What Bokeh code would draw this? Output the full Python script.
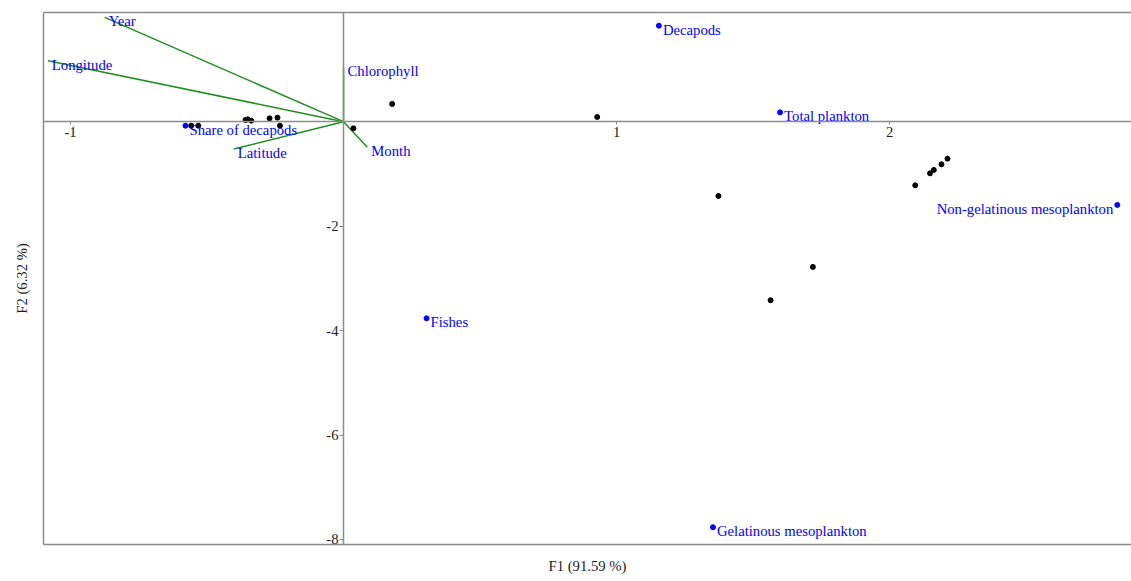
from bokeh.plotting import figure
from bokeh.models import LinearAxis, FixedTicker, ColumnDataSource, Range1d
from bokeh.core.properties import value
from bokeh.embed import file_html
from bokeh.resources import INLINE

# Observations (F1, F2)
obs_f1 = [0.178, 0.929, 0.036, -0.359, -0.351, -0.338, -0.271, -0.242, -0.233,
          -0.558, -0.532, 1.373, 1.719, 1.564, 2.094, 2.148, 2.162, 2.190, 2.212]
obs_f2 = [0.339, 0.090, -0.128, 0.033, 0.044, 0.019, 0.063, 0.077, -0.077,
          -0.077, -0.077, -1.422, -2.781, -3.420, -1.219, -0.990, -0.924, -0.817, -0.708]

# Active variables (vectors)
var_names = ["Year", "Longitude", "Chlorophyll", "Month", "Latitude"]
var_f1 = [-0.875, -1.083, 0.0, 0.087, -0.402]
var_f2 = [1.996, 1.167, 1.039, -0.492, -0.522]

# Supplementary variables (points)
sup_names = ["Decapods", "Total plankton", "Non-gelatinous mesoplankton", "Fishes",
             "Gelatinous mesoplankton", "Share of decapods"]
sup_f1 = [1.155, 1.599, 2.834, 0.304, 1.353, -0.579]
sup_f2 = [1.837, 0.178, -1.594, -3.765, -7.765, -0.077]

x_ticks = [-1, 1, 2]
y_ticks = [-2, -4, -6, -8]
x_title = "F1 (91.59 %)"
y_title = "F2 (6.32 %)"

FONT = "Liberation Serif"
FS = "14.7px"
GRAY = "#8c8c8c"
GREEN = "#1f8f1f"
TXT = "#222222"

p = figure(width=1131, height=581,
           x_range=Range1d(-1.099, 2.886), y_range=Range1d(-8.096, 2.09),
           output_backend="svg", toolbar_location=None,
           x_axis_location=None, y_axis_location=None,
           min_border_left=43, min_border_right=0, min_border_top=12, min_border_bottom=37)
p.outline_line_color = None
p.background_fill_color = "white"
p.border_fill_color = "white"
for g in p.grid:
    g.grid_line_color = None


def border_axis(label=None):
    ax = LinearAxis(ticker=FixedTicker(ticks=[]), axis_label=label,
                    axis_line_color=GRAY, axis_line_width=1.5,
                    major_tick_line_color=None, minor_tick_line_color=None,
                    major_label_text_font_size="0px")
    ax.axis_label_text_font = FONT
    ax.axis_label_text_font_size = FS
    ax.axis_label_text_font_style = "normal"
    ax.axis_label_text_color = TXT
    return ax


bottom_ax = border_axis(x_title)
bottom_ax.axis_label_standoff = 13
left_ax = border_axis(y_title)
left_ax.axis_label_standoff = 14
top_ax = border_axis(None)
p.add_layout(bottom_ax, "below")
p.add_layout(left_ax, "left")
p.add_layout(top_ax, "above")


def zero_axis(ticks, tick_out, standoff):
    ax = LinearAxis(fixed_location=0, ticker=FixedTicker(ticks=ticks),
                    axis_line_color=GRAY, axis_line_width=1.5,
                    major_tick_line_color=GRAY, major_tick_out=tick_out, major_tick_in=0,
                    minor_tick_line_color=None, major_label_standoff=standoff,
                    major_label_overrides={t: str(t) for t in ticks})
    ax.major_label_text_font = FONT
    ax.major_label_text_font_size = FS
    ax.major_label_text_color = TXT
    return ax


p.add_layout(zero_axis(x_ticks, 3, 2), "below")
p.add_layout(zero_axis(y_ticks, 4, 1), "left")

# vectors
p.segment(x0=[0] * len(var_f1), y0=[0] * len(var_f2), x1=var_f1, y1=var_f2,
          line_color=GREEN, line_width=1.5)

# observations
p.scatter(obs_f1, obs_f2, size=5, color="black")

# supplementary points
p.scatter(sup_f1, sup_f2, size=5, color="blue")

lbl_src = ColumnDataSource(dict(
    x=var_f1 + sup_f1, y=var_f2 + sup_f2, text=var_names + sup_names,
    align=["right" if v > 2.5 else "left" for v in var_f1 + sup_f1],
    xoff=[-4 if v > 2.5 else 4 for v in var_f1 + sup_f1],
))
p.text(x="x", y="y", text="text", source=lbl_src, x_offset="xoff", y_offset=4,
       text_align="align", text_baseline="middle",
       text_font=value(FONT), text_font_size=FS, text_color="blue")

open("out.html", "w").write(file_html(p, INLINE))
